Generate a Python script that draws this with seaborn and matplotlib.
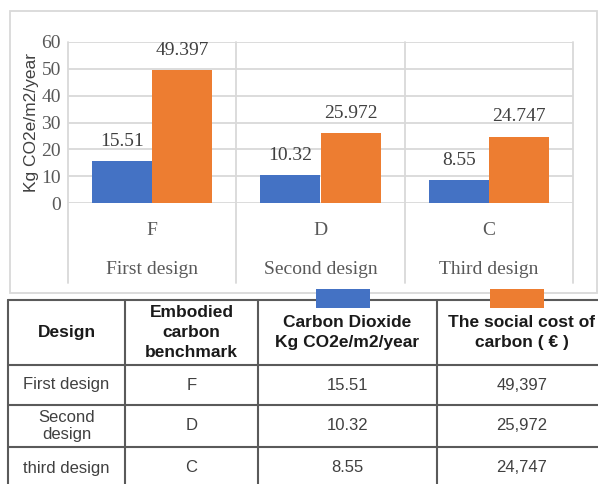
import numpy as np
import pandas as pd
import matplotlib
matplotlib.use("Agg")
import matplotlib.pyplot as plt
from matplotlib.patches import Rectangle
import seaborn as sns

#%% Data
designs = ["First design", "Second design", "Third design"]
benchmarks = ["F", "D", "C"]
co2 = [15.51, 10.32, 8.55]                 # Kg CO2e/m2/year
social_cost = [49.397, 25.972, 24.747]     # social cost of carbon
series = ["Carbon Dioxide", "The social cost of carbon"]

table_header = ["Design", "Embodied\ncarbon\nbenchmark",
                "Carbon Dioxide\nKg CO2e/m2/year", "The social cost of\ncarbon ( € )"]
table_designs = ["First design", "Second\ndesign", "third design"]
co2_txt = ["15.51", "10.32", "8.55"]
social_cost_txt = ["49,397", "25,972", "24,747"]

colors = ["#4472C4", "#ED7D31"]

#%% Parameters (pixels)
W, H = 598, 484
plot_box = (68, 42, 573, 203)          # left, top, right, bottom
col_edges = [8, 125, 258, 437, 607]
row_edges = [300, 365, 405, 447, 489]

sns.set_theme(style="white")
plt.rcParams["font.family"] = ["Liberation Serif", "DejaVu Serif"]

df = pd.DataFrame({
    "benchmark": benchmarks * 2,
    "value": co2 + social_cost,
    "series": [series[0]] * 3 + [series[1]] * 3,
})

fig = plt.figure(figsize=(W / 100, H / 100), dpi=100)

# overlay in pixel coords for the frame and the data table
ov = fig.add_axes([0, 0, 1, 1])
ov.set_xlim(0, W)
ov.set_ylim(H, 0)
ov.axis("off")
ov.add_patch(Rectangle((10, 11), 587, 282, fill=False, ec="#d9d9d9", lw=1.3))

# chart axes
l, t, r, b = plot_box
ax = fig.add_axes([l / W, 1 - b / H, (r - l) / W, (b - t) / H])
sns.barplot(data=df, x="benchmark", y="value", hue="series", palette=colors,
            width=0.714, gap=0, saturation=1, linewidth=0, legend=False, ax=ax)
ax.set_ylim(0, 60)
ax.set_xlim(-0.5, 2.5)
ax.set_yticks(np.arange(0, 61, 10))
ax.tick_params(axis="y", labelsize=14, labelcolor="#595959", pad=5, length=0)
ax.set_xticks([])
for s in ax.spines.values():
    s.set_visible(False)
ax.set_axisbelow(True)
ax.yaxis.grid(True, color="#d9d9d9", lw=1.3)
ax.set_xlabel("")
ax.set_ylabel("Kg CO2e/m2/year", fontsize=12.5, color="#404040",
              family=["Liberation Sans", "DejaVu Sans"], labelpad=2)

# category boundaries extend into the label area
for xb in np.arange(-0.5, len(benchmarks), 1.0):
    ax.axvline(xb, ymin=-80 / 161, ymax=1, color="#d9d9d9", lw=1.3, clip_on=False, zorder=0)

# data labels
fmts = ["%.2f", "%.3f"]
for cont, fmt in zip(ax.containers, fmts):
    ax.bar_label(cont, fmt=fmt, padding=8, fontsize=14, color="#404040")

# two-level category labels
tr = ax.get_xaxis_transform()
for i, (bm, dname) in enumerate(zip(benchmarks, designs)):
    ax.text(i, -32 / 161, bm, transform=tr, ha="center", va="baseline",
            fontsize=14, color="#595959")
    ax.text(i, -71 / 161, dname, transform=tr, ha="center", va="baseline",
            fontsize=14, color="#595959")

#%% Data table
line_kw = dict(color="#5a5a5a", lw=1.5, clip_on=True)
for y in row_edges:
    ov.plot([col_edges[0], col_edges[-1]], [y, y], **line_kw)
for x in col_edges:
    ov.plot([x, x], [row_edges[0], row_edges[-1]], **line_kw)

sans = ["Liberation Sans", "DejaVu Sans"]
xc = [(a + c) / 2 for a, c in zip(col_edges[:-1], col_edges[1:])]
yc = [(a + c) / 2 for a, c in zip(row_edges[:-1], row_edges[1:])]
for j, txt in enumerate(table_header):
    ov.text(xc[j], yc[0], txt, ha="center", va="center", fontsize=12.5,
            fontweight="bold", family=sans, color="#1a1a1a", linespacing=1.4)
rows = list(zip(table_designs, benchmarks, co2_txt, social_cost_txt))
for i, row in enumerate(rows):
    for j, txt in enumerate(row):
        ov.text(xc[j], yc[i + 1], txt, ha="center", va="center", fontsize=12,
                family=sans, color="#404040", linespacing=1.25)

# legend keys above the series columns
for j, c in zip([2, 3], colors):
    ov.add_patch(Rectangle((xc[j] - 32, 289), 54, 19, fc=c, ec="none", zorder=5))

fig.savefig("out.png", dpi=100)
